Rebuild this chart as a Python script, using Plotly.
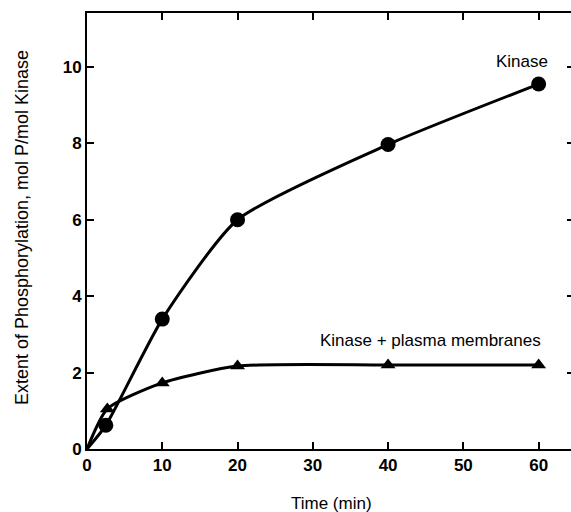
import plotly.graph_objects as go

# Data
kinase_t = [2.5, 10, 20, 40, 60]
kinase_p = [0.62, 3.4, 6.0, 7.97, 9.55]
memb_t = [2.7, 10, 20, 40, 60]
memb_p = [1.05, 1.73, 2.17, 2.2, 2.2]
origin_t = [0]
origin_p = [0]
x_ticks = [0, 10, 20, 30, 40, 50, 60]
y_ticks = [0, 2, 4, 6, 8, 10]

FONT = "Liberation Sans, Arial, sans-serif"
fig = go.Figure()

fig.add_trace(go.Scatter(x=origin_t + kinase_t, y=origin_p + kinase_p, mode="lines",
                         line=dict(color="black", width=3, shape="spline", smoothing=0.6),
                         showlegend=False, hoverinfo="skip"))
fig.add_trace(go.Scatter(x=origin_t + memb_t, y=origin_p + memb_p, mode="lines",
                         line=dict(color="black", width=3, shape="spline", smoothing=0.6),
                         showlegend=False, hoverinfo="skip"))
fig.add_trace(go.Scatter(x=kinase_t, y=kinase_p, mode="markers",
                         marker=dict(symbol="circle", size=15, color="black"),
                         showlegend=False))
fig.add_trace(go.Scatter(x=memb_t, y=memb_p, mode="markers",
                         marker=dict(symbol="triangle-up", size=13, color="black"),
                         showlegend=False))
# invisible trace to carry the right-side ticks
fig.add_trace(go.Scatter(x=[0], y=[0], yaxis="y2", mode="markers",
                         marker=dict(opacity=0), showlegend=False, hoverinfo="skip"))

fig.update_layout(
    width=571, height=512,
    margin=dict(l=87, r=0, t=13, b=63),
    paper_bgcolor="white", plot_bgcolor="white",
    font=dict(family=FONT, color="black"),
    xaxis=dict(range=[0, 64.3], tickvals=x_ticks, ticks="inside", ticklen=7,
               tickwidth=2, tickcolor="black", showline=True, linecolor="black",
               linewidth=2, mirror="ticks", showgrid=False, zeroline=False,
               tickfont=dict(family=FONT, size=17, color="black", weight="bold")),
    yaxis=dict(range=[0, 11.41], tickvals=y_ticks, ticks="inside", ticklen=7,
               tickwidth=2, tickcolor="black", showline=True, linecolor="black",
               linewidth=2, showgrid=False, zeroline=False,
               tickfont=dict(family=FONT, size=17, color="black", weight="bold")),
    yaxis2=dict(range=[0, 11.41], overlaying="y", side="right", tickvals=y_ticks,
                ticks="inside", ticklen=4, tickwidth=2, tickcolor="black",
                showline=False, showgrid=False, zeroline=False, showticklabels=False),
    annotations=[
        dict(text="Kinase", x=57.8, y=10.13, xref="x", yref="y", showarrow=False,
             xanchor="center", yanchor="middle",
             font=dict(family=FONT, size=17, color="black")),
        dict(text="Kinase + plasma membranes", x=45.7, y=2.85, xref="x", yref="y",
             showarrow=False, xanchor="center", yanchor="middle",
             font=dict(family=FONT, size=17, color="black")),
        dict(text="Extent of Phosphorylation, mol P/mol Kinase", x=-0.134, y=0.507,
             xref="paper", yref="paper", textangle=-90, showarrow=False,
             xanchor="center", yanchor="middle",
             font=dict(family=FONT, size=18, color="black")),
        dict(text="Time (min)", x=0.506, y=-0.124, xref="paper", yref="paper",
             showarrow=False, xanchor="center", yanchor="middle",
             font=dict(family=FONT, size=17, color="black")),
    ],
)

fig.write_html("out.html")
